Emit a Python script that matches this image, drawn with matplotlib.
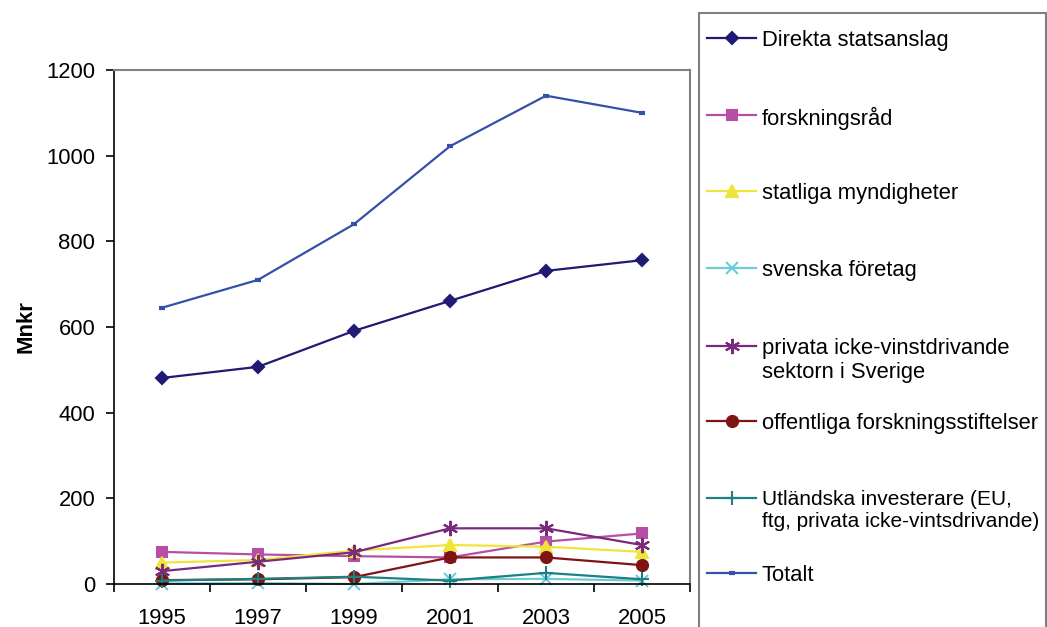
import matplotlib
matplotlib.use('Agg')
import matplotlib.pyplot as plt
from matplotlib.lines import Line2D
from matplotlib.patches import Rectangle

plt.rcParams['font.family'] = ['Liberation Sans', 'DejaVu Sans']

# Data
years = ['1995', '1997', '1999', '2001', '2003', '2005']
direkta = [481, 507, 591, 661, 731, 756]
forskningsrad = [75, 69, 65, 62, 99, 118]
statliga = [50, 56, 78, 91, 87, 75]
svenska = [1, 2, 0, 11, 12, 8]
privata = [30, 52, 74, 130, 130, 91]
offentliga = [9, 11, 16, 62, 62, 44]
utlandska = [8, 12, 17, 8, 26, 11]
totalt = [645, 710, 840, 1022, 1140, 1100]

labels = ['Direkta statsanslag', 'forskningsråd', 'statliga myndigheter',
          'svenska företag', 'privata icke-vinstdrivande\nsektorn i Sverige',
          'offentliga forskningsstiftelser',
          'Utländska investerare (EU,\nftg, privata icke-vintsdrivande)',
          'Totalt']

# stil per serie: färg, markör, storlek
serier = [
    (direkta, '#1F1A74', 'D', 6.5),
    (forskningsrad, '#B84FA6', 's', 7),
    (statliga, '#EEE53A', '^', 8),
    (svenska, '#6CCCDA', 'x', 8),
    (privata, '#7A2A7C', (6, 2, 0), 11),
    (offentliga, '#7E1414', 'o', 8),
    (utlandska, '#1E8080', '+', 10),
    (totalt, '#3550A8', '_', 5),
]

W, H = 1047, 627
fs = 15.8
fig = plt.figure(figsize=(W / 100, H / 100), dpi=100)
ax = fig.add_axes([114 / W, (H - 584) / H, 576 / W, 514 / H])

x = list(range(len(years)))
for (vals, col, mk, ms) in serier:
    ax.plot(x, vals, color=col, lw=1.6, marker=mk, ms=ms, mfc=col, mec=col,
            mew=1.5 if mk != '_' else 3, clip_on=False)

ax.set_xlim(-0.5, len(years) - 0.5)
ax.set_ylim(0, 1200)
ax.set_yticks(range(0, 1201, 200))
ax.set_xticks([i - 0.5 for i in range(len(years) + 1)])
ax.set_xticklabels([])
ax.set_xticks(x, minor=True)
ax.set_xticklabels(years, minor=True)
ax.tick_params(axis='x', which='minor', length=0, pad=17, labelsize=fs)
ax.tick_params(axis='x', which='major', length=5.5, direction='out', width=1.2)
ax.tick_params(axis='y', length=5.5, direction='out', width=1.2, pad=8, labelsize=fs)
ax.set_ylabel('Mnkr', fontsize=16, fontweight='bold', labelpad=7)

for s in ('top', 'right'):
    ax.spines[s].set_color('#808080')
    ax.spines[s].set_linewidth(1.5)
for s in ('left', 'bottom'):
    ax.spines[s].set_linewidth(1.2)

# legend ruta (manuell, Excel-stil)
def fx(px):
    return px / W

def fy(py):
    return 1 - py / H

fig.patches.append(Rectangle((fx(699), fy(640)), fx(1046) - fx(699), fy(13) - fy(640),
                             transform=fig.transFigure, fill=False,
                             edgecolor='#808080', lw=1.5))

rad_y = [38, 115, 191, 268, 346, 421, 498, 573]
for (vals, col, mk, ms), lab, yy in zip(serier, labels, rad_y):
    fig.add_artist(Line2D([fx(707), fx(756)], [fy(yy), fy(yy)], transform=fig.transFigure,
                          color=col, lw=1.6))
    fig.add_artist(Line2D([fx(731.5)], [fy(yy)], transform=fig.transFigure,
                          color=col, marker=mk, ms=ms, mfc=col, mec=col,
                          mew=1.5 if mk != '_' else 3))
    # den längsta raden får lite mindre text så den ryms i rutan
    storlek = 15.0 if lab.startswith('Utl') else fs
    fig.text(fx(762), fy(yy - 8), lab, fontsize=storlek, va='top', ha='left',
             linespacing=1.2)

plt.savefig('out.png', dpi=100)
